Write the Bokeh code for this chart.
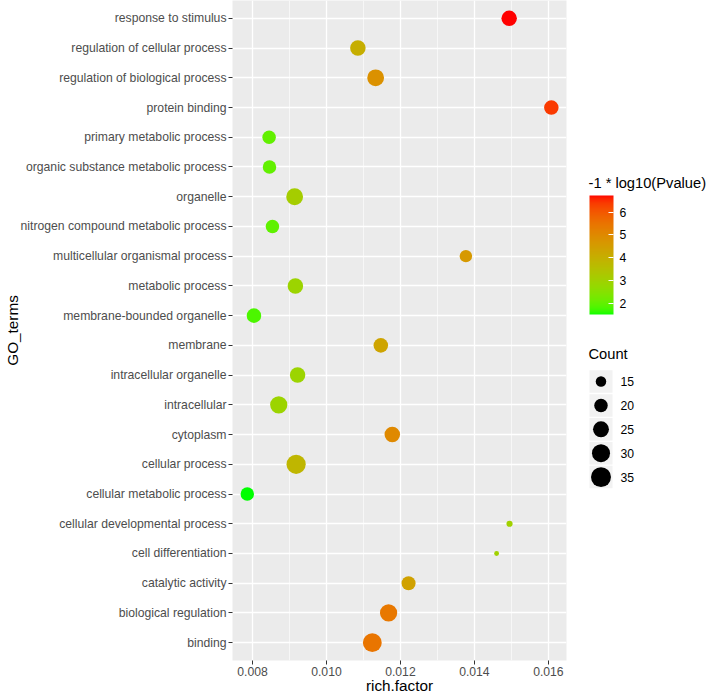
import numpy as np
from bokeh.plotting import figure
from bokeh.models import (ColumnDataSource, Range1d, FactorRange, LinearColorMapper, ColorBar,
                          SingleIntervalTicker, FixedTicker, PrintfTickFormatter)
from bokeh.layouts import row
from bokeh.transform import transform
from bokeh.embed import file_html
from bokeh.resources import INLINE
from bokeh.core.properties import value

# ---------------- data (bottom to top, alphabetical as in ggplot) ----------------
go_terms = [
    "binding", "biological regulation", "catalytic activity", "cell differentiation",
    "cellular developmental process", "cellular metabolic process", "cellular process",
    "cytoplasm", "intracellular", "intracellular organelle", "membrane",
    "membrane-bounded organelle", "metabolic process", "multicellular organismal process",
    "nitrogen compound metabolic process", "organelle", "organic substance metabolic process",
    "primary metabolic process", "protein binding", "regulation of biological process",
    "regulation of cellular process", "response to stimulus",
]
rich_factor = [
    0.01124, 0.01168, 0.01222, 0.01460, 0.01495, 0.00786, 0.00918, 0.01178, 0.00871,
    0.00922, 0.01147, 0.00804, 0.00916, 0.01377, 0.00854, 0.00914, 0.00846, 0.00845,
    0.01608, 0.01133, 0.01085, 0.01494,
]
gene_count = [32, 28, 21, 9, 10, 20, 33, 24, 28, 24, 22, 22, 24, 18, 20, 27, 20, 20, 22, 27, 24, 24]
neg_log10_p = [
    5.45, 5.40, 4.40, 3.00, 3.00, 1.50, 3.80, 5.00, 2.90, 2.90, 4.30, 1.80, 2.90, 4.60,
    1.95, 3.10, 2.00, 2.00, 6.40, 4.80, 4.05, 6.73,
]
count_breaks = [15, 20, 25, 30, 35]
colorbar_ticks = [2, 3, 4, 5, 6]
colorbar_title = "-1 * log10(Pvalue)"
size_title = "Count"
x_title = "rich.factor"
y_title = "GO_terms"

FONT = "Liberation Sans"

# ---------------- colour gradient (Lab interpolation, like ggplot) ----------------
_M = np.array([[0.4124564, 0.3575761, 0.1804375],
               [0.2126729, 0.7151522, 0.0721750],
               [0.0193339, 0.1191920, 0.9503041]])
_Minv = np.linalg.inv(_M)
_WHITE = np.array([0.95047, 1.0, 1.08883])


def hex_to_lab(h):
    rgb = np.array([int(h[i:i + 2], 16) for i in (1, 3, 5)]) / 255.0
    lin = np.where(rgb <= 0.04045, rgb / 12.92, ((rgb + 0.055) / 1.055) ** 2.4)
    r = (_M @ lin) / _WHITE
    f = np.where(r > 216 / 24389, np.cbrt(r), (24389 / 27 * r + 16) / 116)
    return np.array([116 * f[1] - 16, 500 * (f[0] - f[1]), 200 * (f[1] - f[2])])


def lab_to_hex(lab):
    L, a, b = lab
    fy = (L + 16) / 116
    f = np.array([fy + a / 500, fy, fy - b / 200])
    r = np.where(f ** 3 > 216 / 24389, f ** 3, (116 * f - 16) / (24389 / 27))
    lin = np.clip(_Minv @ (r * _WHITE), 0, 1)
    rgb = np.where(lin <= 0.0031308, 12.92 * lin, 1.055 * lin ** (1 / 2.4) - 0.055)
    rgb = np.clip(rgb, 0, 1)
    return "#%02x%02x%02x" % tuple(int(round(v * 255)) for v in rgb)


lab_lo, lab_hi = hex_to_lab("#00FF00"), hex_to_lab("#FF0000")
palette = [lab_to_hex(lab_lo + t * (lab_hi - lab_lo)) for t in np.linspace(0, 1, 256)]
mapper = LinearColorMapper(palette=palette, low=min(neg_log10_p), high=max(neg_log10_p))


def point_diameter(c):
    c = np.asarray(c, dtype=float)
    return np.sqrt(np.maximum(14.38 * c - 105.3, 16.0))


src = ColumnDataSource(dict(term=go_terms, rich=rich_factor, count=gene_count,
                            logp=neg_log10_p, diam=point_diameter(gene_count)))

MAIN_W, LEG_W, H = 572, 136, 696
LEFT, RIGHT, BOTTOM = 232, 6, 36
FRAME_H = H - BOTTOM

# ---------------- main panel ----------------
p = figure(width=MAIN_W, height=H,
           x_range=Range1d(0.00746, 0.01649),
           y_range=FactorRange(factors=go_terms, range_padding=0.1, range_padding_units="absolute"),
           output_backend="svg", toolbar_location=None,
           min_border_left=LEFT, min_border_right=RIGHT, min_border_top=0, min_border_bottom=BOTTOM)
p.background_fill_color = "#EBEBEB"
p.border_fill_color = "white"
p.outline_line_color = None

p.xaxis.ticker = SingleIntervalTicker(interval=0.002, num_minor_ticks=2)
p.xaxis.formatter = PrintfTickFormatter(format="%.3f")
p.xgrid.grid_line_color = "white"
p.xgrid.grid_line_width = 1.3
p.xgrid.minor_grid_line_color = "white"
p.xgrid.minor_grid_line_width = 0.6
p.ygrid.grid_line_color = "white"
p.ygrid.grid_line_width = 1.3

for ax, label in ((p.xaxis, x_title), (p.yaxis, y_title)):
    ax.axis_label = label
    ax.axis_line_color = None
    ax.major_tick_line_color = "#333333"
    ax.major_tick_out = 4
    ax.major_tick_in = 0
    ax.minor_tick_line_color = None
    ax.minor_tick_out = 0
    ax.major_label_text_font = FONT
    ax.major_label_text_font_size = "12.2px"
    ax.major_label_text_color = "#4D4D4D"
    ax.major_label_standoff = 2
    ax.axis_label_text_font = FONT
    ax.axis_label_text_font_size = "15.3px"
    ax.axis_label_text_font_style = "normal"
    ax.axis_label_text_color = "black"
    ax.axis_label_text_line_height = 1.0
p.xaxis.axis_label_standoff = -2
p.yaxis.axis_label_standoff = -3

p.scatter(x="rich", y="term", size="diam", source=src,
          fill_color=transform("logp", mapper), line_color=None)

# ---------------- legends panel (drawn in page pixel coordinates) ----------------
lg = figure(width=LEG_W, height=H, x_range=Range1d(MAIN_W, MAIN_W + LEG_W),
            y_range=Range1d(FRAME_H, 0),
            output_backend="svg", toolbar_location=None,
            min_border_left=0, min_border_right=0, min_border_top=0, min_border_bottom=BOTTOM,
            x_axis_location=None, y_axis_location=None)
lg.outline_line_color = None
lg.grid.visible = False
lg.background_fill_color = "white"
lg.border_fill_color = "white"

cb = ColorBar(color_mapper=mapper, width=24, height=119, location=(589 - MAIN_W, FRAME_H - 314),
              ticker=FixedTicker(ticks=colorbar_ticks),
              major_label_text_font=FONT, major_label_text_font_size="12.2px",
              major_label_text_color="black", label_standoff=6,
              major_tick_line_color="white", major_tick_in=5, major_tick_out=0,
              minor_tick_line_color=None, bar_line_color=None, border_line_color=None,
              background_fill_color=None, padding=0)
lg.add_layout(cb, "center")

lg.text(x=[588], y=[182], text=[colorbar_title], text_font=value(FONT), text_font_size="14.7px",
        text_color="black", text_baseline="middle", text_align="left")

key_x = 600.5
key_y0 = 381.0
key_step = 23.9
key_ys = [key_y0 + i * key_step for i in range(len(count_breaks))]
lg.rect(x=[key_x] * len(count_breaks), y=key_ys, width=23, height=22.5,
        fill_color="#F2F2F2", line_color=None)
lg.scatter(x=[key_x] * len(count_breaks), y=key_ys, size=point_diameter(count_breaks),
           fill_color="black", line_color=None)
lg.text(x=[620] * len(count_breaks), y=key_ys, text=[str(c) for c in count_breaks],
        text_font=value(FONT), text_font_size="12.2px", text_color="black",
        text_baseline="middle", text_align="left")
lg.text(x=[588], y=[353], text=[size_title], text_font=value(FONT), text_font_size="14.7px",
        text_color="black", text_baseline="middle", text_align="left")

layout = row(p, lg)
open("out.html", "w").write(file_html(layout, INLINE))
